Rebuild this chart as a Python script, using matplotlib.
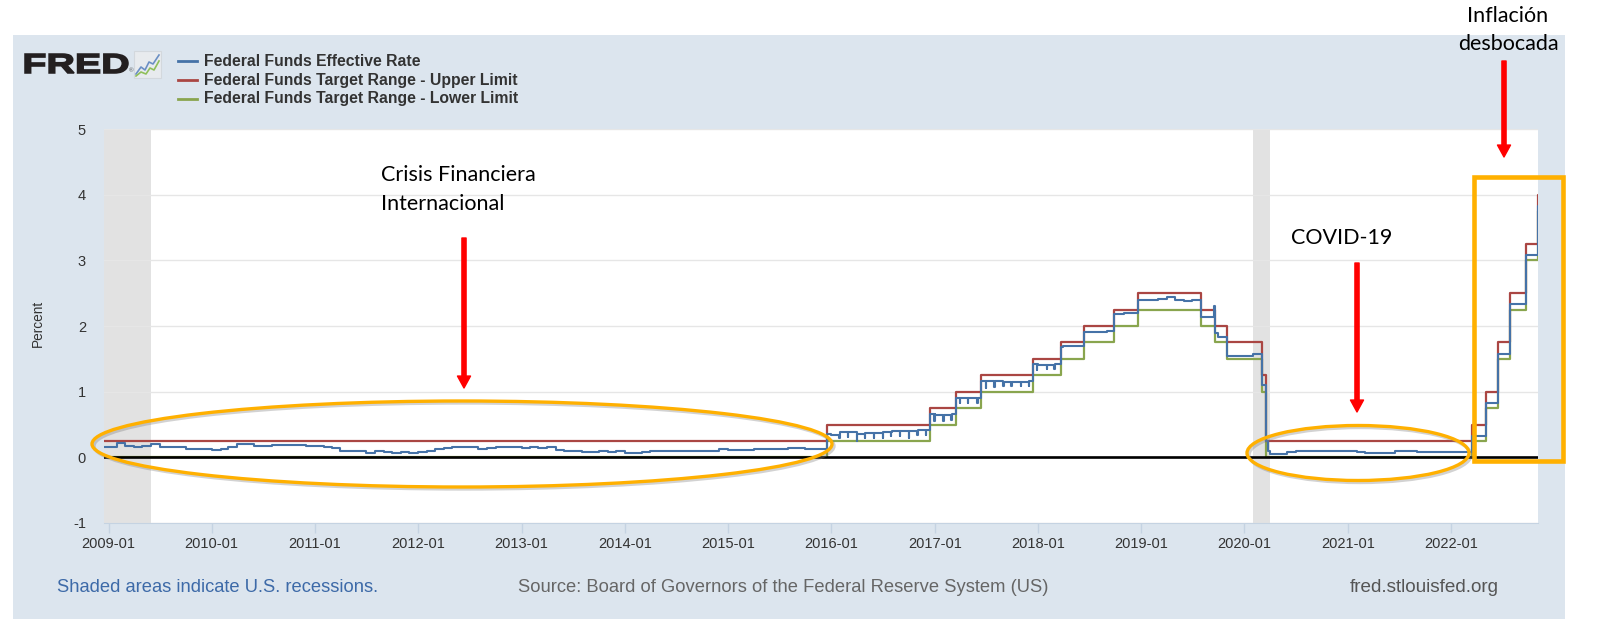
import numpy as np
import pandas as pd
import matplotlib
matplotlib.use("Agg")
import matplotlib.pyplot as plt
import matplotlib.dates as mdates
from matplotlib.patches import Rectangle, Ellipse, FancyArrowPatch, PathPatch
from matplotlib.textpath import TextPath
from matplotlib.font_manager import FontProperties
from matplotlib.transforms import Affine2D

plt.rcParams["font.family"] = ["Liberation Sans", "DejaVu Sans"]
plt.rcParams["axes.unicode_minus"] = False

W, H = 1600, 634

# ---- data ----
target_dates = ["2008-12-16", "2015-12-17", "2016-12-15", "2017-03-16", "2017-06-15",
                "2017-12-14", "2018-03-22", "2018-06-14", "2018-09-27", "2018-12-20",
                "2019-08-01", "2019-09-19", "2019-10-31", "2020-03-04", "2020-03-16",
                "2022-03-17", "2022-05-05", "2022-06-16", "2022-07-28", "2022-09-22",
                "2022-11-03", "2022-11-08"]
upper_limit = [0.25, 0.50, 0.75, 1.00, 1.25, 1.50, 1.75, 2.00, 2.25, 2.50,
               2.25, 2.00, 1.75, 1.25, 0.25, 0.50, 1.00, 1.75, 2.50, 3.25, 4.00, 4.00]
lower_limit = [0.00, 0.25, 0.50, 0.75, 1.00, 1.25, 1.50, 1.75, 2.00, 2.25,
               2.00, 1.75, 1.50, 1.00, 0.00, 0.25, 0.75, 1.50, 2.25, 3.00, 3.75, 3.75]

# effective rate, level at the start of each month (2008-12 .. 2022-11)
effr_monthly = [
    0.16,
    0.15, 0.22, 0.18, 0.15, 0.18, 0.21, 0.16, 0.16, 0.15, 0.12, 0.12, 0.12,
    0.11, 0.13, 0.16, 0.20, 0.20, 0.18, 0.18, 0.19, 0.19, 0.19, 0.19, 0.18,
    0.17, 0.16, 0.14, 0.10, 0.09, 0.09, 0.07, 0.10, 0.08, 0.07, 0.08, 0.07,
    0.08, 0.10, 0.13, 0.14, 0.16, 0.16, 0.16, 0.13, 0.14, 0.16, 0.16, 0.16,
    0.14, 0.15, 0.14, 0.15, 0.11, 0.09, 0.09, 0.08, 0.08, 0.09, 0.08, 0.09,
    0.07, 0.07, 0.08, 0.09, 0.09, 0.10, 0.09, 0.09, 0.09, 0.09, 0.09, 0.12,
    0.11, 0.11, 0.11, 0.12, 0.12, 0.13, 0.13, 0.14, 0.14, 0.12, 0.12, 0.13,
    0.34, 0.38, 0.36, 0.37, 0.37, 0.38, 0.39, 0.40, 0.40, 0.40, 0.41, 0.41,
    0.65, 0.66, 0.66, 0.91, 0.91, 0.91, 1.15, 1.16, 1.15, 1.15, 1.16, 1.16,
    1.41, 1.42, 1.42, 1.69, 1.70, 1.70, 1.91, 1.91, 1.92, 2.19, 2.20, 2.20,
    2.40, 2.40, 2.41, 2.44, 2.39, 2.38, 2.40, 2.13, 2.13, 1.83, 1.55, 1.55,
    1.55, 1.58, 1.58, 0.05, 0.05, 0.08, 0.09, 0.10, 0.09, 0.09, 0.09, 0.09,
    0.09, 0.08, 0.07, 0.07, 0.06, 0.06, 0.10, 0.09, 0.08, 0.08, 0.08, 0.08,
    0.08, 0.08, 0.08, 0.33, 0.33, 0.83, 1.58, 2.33, 2.33, 3.08, 3.08,
]
# effective rate moves inside a month (policy changes, repo spike)
effr_change_dates = ["2015-12-17", "2016-12-15", "2017-03-16", "2017-06-15", "2017-12-14",
                     "2018-03-22", "2018-06-14", "2018-09-27", "2018-12-20", "2019-09-17",
                     "2019-09-19", "2019-10-31", "2020-03-04", "2020-03-16", "2020-03-23",
                     "2021-06-17", "2022-03-17", "2022-05-05", "2022-06-16", "2022-07-28",
                     "2022-09-22", "2022-11-03"]
effr_change_values = [0.36, 0.66, 0.91, 1.16, 1.42, 1.68, 1.91, 2.18, 2.40, 2.30,
                      1.90, 1.58, 1.10, 0.25, 0.10, 0.10, 0.33, 0.83, 1.58, 2.33,
                      3.08, 3.83]
# month-end dips
dip_dates = ["2016-01-29", "2016-02-29", "2016-03-31", "2016-04-29", "2016-05-31", "2016-06-30",
             "2016-07-29", "2016-08-31", "2016-09-30", "2016-10-31", "2016-11-30", "2016-12-30",
             "2017-01-31", "2017-02-28", "2017-03-31", "2017-04-28", "2017-05-31", "2017-06-30",
             "2017-07-31", "2017-08-31", "2017-09-29", "2017-10-31", "2017-11-30", "2017-12-29",
             "2018-01-31", "2018-02-28"]
dip_values = [0.30, 0.31, 0.25, 0.29, 0.29, 0.30, 0.32, 0.33, 0.29, 0.34, 0.34, 0.55,
              0.55, 0.57, 0.83, 0.83, 0.83, 1.06, 1.07, 1.08, 1.08, 1.08, 1.08, 1.33,
              1.34, 1.35]

recession_starts = ["2008-12-01", "2020-02-01"]
recession_ends = ["2009-06-01", "2020-04-01"]

x_start, x_end = "2008-12-16", "2022-11-04"
year_ticks = [f"{y}-01-01" for y in range(2009, 2023)]
y_ticks = [-1, 0, 1, 2, 3, 4, 5]

C_BLUE, C_RED, C_GREEN = "#4572a7", "#aa4643", "#89a54e"
C_PANEL = "#dce5ee"
C_ORANGE = "#ffb000"

# ---- build effective rate step series ----
months = pd.date_range("2008-12-01", periods=len(effr_monthly), freq="MS")
eff = pd.Series(effr_monthly, index=months)
eff = pd.concat([eff, pd.Series(effr_change_values, index=pd.to_datetime(effr_change_dates))])
eff = eff.sort_index()
extra = {}
for d, v in zip(pd.to_datetime(dip_dates), dip_values):
    level = eff[eff.index <= d].iloc[-1]
    extra[d] = v
    extra[d + pd.Timedelta(days=1)] = level
eff = pd.concat([eff, pd.Series(extra)]).sort_index()
eff = eff[~eff.index.duplicated(keep="last")]
eff[pd.Timestamp("2022-11-08")] = eff.iloc[-1]

def fx(x): return x / W
def fy(y): return 1 - y / H

fig = plt.figure(figsize=(W / 100, H / 100), dpi=100, facecolor="white")

# grey-blue FRED panel
fig.patches.append(Rectangle((fx(13), fy(619)), fx(1565) - fx(13), fy(35) - fy(619),
                             transform=fig.transFigure, facecolor=C_PANEL,
                             edgecolor="none", zorder=-10))

ax = fig.add_axes([fx(104), fy(523), fx(1538) - fx(104), fy(129) - fy(523)])
ax.set_facecolor("white")

for s, e in zip(recession_starts, recession_ends):
    ax.axvspan(pd.Timestamp(s), pd.Timestamp(e), color="#e2e2e2", lw=0, zorder=0.5)

td = pd.to_datetime(target_dates)
ax.step(td, lower_limit, where="post", color=C_GREEN, lw=1.6, zorder=2)
ax.step(td, upper_limit, where="post", color=C_RED, lw=1.6, zorder=2.1)
ax.axhline(0, color="black", lw=1.9, zorder=2.5)
ax.step(eff.index, eff.values, where="post", color=C_BLUE, lw=1.5, zorder=3)

ax.set_xlim(pd.Timestamp(x_start), pd.Timestamp(x_end))
ax.set_ylim(-1, 5)
ax.set_yticks(y_ticks)
ax.set_xticks(pd.to_datetime(year_ticks))
ax.xaxis.set_major_formatter(mdates.DateFormatter("%Y-%m"))
ax.yaxis.grid(True, color="#e6e6e6", lw=1)
ax.set_axisbelow(True)
for sp in ["top", "right", "left"]:
    ax.spines[sp].set_visible(False)
ax.spines["bottom"].set_color("#c5d3e2")
ax.tick_params(axis="x", direction="out", length=7, width=1, color="#c5d3e2",
               labelsize=10.5, labelcolor="#333333", pad=3)
ax.tick_params(axis="y", length=0, labelsize=10.5, labelcolor="#333333", pad=13)

# ---- overlay in pixel coordinates ----
ov = fig.add_axes([0, 0, 1, 1], zorder=5)
ov.set_xlim(0, W); ov.set_ylim(H, 0)
ov.axis("off"); ov.patch.set_alpha(0)

# FRED logo
tp = TextPath((0, 0), "FRED", size=100, prop=FontProperties(family="Liberation Sans", weight="bold"))
bb = tp.get_extents()
tr = Affine2D().translate(-bb.x0, -bb.y0).scale(103 / bb.width, -19 / bb.height).translate(25, 73)
ov.add_patch(PathPatch(tr.transform_path(tp), facecolor="#231f20", edgecolor="#231f20", lw=1.1))
ov.text(129, 73, "®", fontsize=4.5, color="#555555", ha="left", va="bottom")
ov.add_patch(Rectangle((134, 51), 27, 27, facecolor="#e8ebee", edgecolor="#d3d8dd", lw=0.8))
ov.plot([136, 141, 145, 149, 153, 159], [74, 67, 70, 62, 64, 55], color="#6b8fc4", lw=1.2)
ov.plot([136, 141, 146, 150, 154, 159], [76, 72, 74, 68, 70, 61], color="#8fbf5a", lw=1.2)

# legend
for yy, col, lab in [(61, C_BLUE, "Federal Funds Effective Rate"),
                     (80, C_RED, "Federal Funds Target Range - Upper Limit"),
                     (99, C_GREEN, "Federal Funds Target Range - Lower Limit")]:
    ov.plot([178, 197], [yy, yy], color=col, lw=2)
    ov.text(204, yy, lab, ha="left", va="center", fontsize=11.3, weight="bold", color="#333333")

ov.text(38, 323, "Percent", rotation=90, ha="center", va="center", fontsize=9.8, color="#333333")

# footer
ov.text(57, 588, "Shaded areas indicate U.S. recessions.", ha="left", va="center",
        fontsize=13.2, color="#3d6aa8")
ov.text(518, 588, "Source: Board of Governors of the Federal Reserve System (US)", ha="left",
        va="center", fontsize=13.2, color="#666666")
ov.text(1499, 588, "fred.stlouisfed.org", ha="right", va="center", fontsize=13.6, color="#555555")

# annotations
def ring(cx, cy, w, h):
    ov.add_patch(Ellipse((cx + 2, cy + 2), w, h, fill=False, edgecolor="#808080", lw=2.4, alpha=0.35))
    ov.add_patch(Ellipse((cx, cy), w, h, fill=False, edgecolor=C_ORANGE, lw=2.4))

def arrow(x, y0, y1):
    ov.add_patch(FancyArrowPatch((x, y0), (x, y1), arrowstyle="simple,head_length=0.86,head_width=0.94,tail_width=0.3",
                                 mutation_scale=10, color="#ff0000", shrinkA=0, shrinkB=0))

ring(462, 444, 740, 86)
ring(1358, 453, 222, 55)
ov.add_patch(Rectangle((1474, 177), 89, 284, fill=False, edgecolor=C_ORANGE, lw=3.3))

arrow(464, 238, 388)
arrow(1357, 263, 412)
arrow(1504, 61, 157)

afont = dict(family=["Lato", "DejaVu Sans"], fontsize=15.5, color="black", va="baseline")
ov.text(381, 181, "Crisis Financiera", ha="left", **afont)
ov.text(381, 210, "Internacional", ha="left", **afont)
ov.text(1342, 244, "COVID-19", ha="center", **afont)
ov.text(1508, 22, "Inflación", ha="center", **afont)
ov.text(1508, 50, "desbocada", ha="center", **afont)

fig.savefig("out.png", dpi=100)
